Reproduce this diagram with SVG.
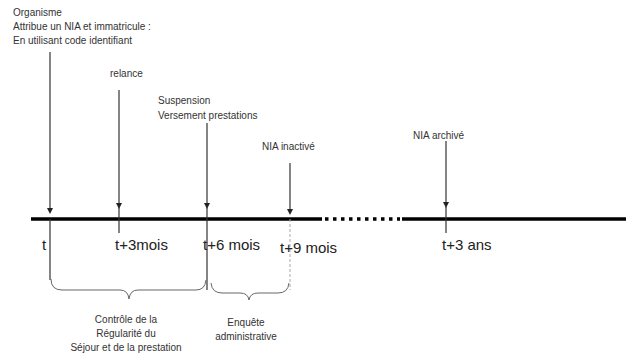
<svg xmlns="http://www.w3.org/2000/svg" width="626" height="356" viewBox="0 0 626 356">
<defs>
<marker id="ah" markerWidth="6" markerHeight="6" refX="3" refY="3" orient="auto" markerUnits="userSpaceOnUse">
<path d="M0,0 L6,3 L0,6 z" fill="#222"/>
</marker>
<style>
text{font-family:"Liberation Sans",Arial,sans-serif;fill:#333}
.s{font-size:10px}
.m{font-size:15px;fill:#222}
.v{stroke:#333;stroke-width:1.2;fill:none}
.b{stroke:#666;stroke-width:1;fill:none}
</style>
</defs>
<rect width="626" height="356" fill="#fff"/>
<g id="timeline">
<line x1="31" y1="219" x2="322" y2="219" stroke="#000" stroke-width="3.5"/>
<line x1="325" y1="219" x2="400" y2="219" stroke="#000" stroke-width="3.5" stroke-dasharray="3.5,4.5"/>
<line x1="402" y1="219" x2="626" y2="219" stroke="#000" stroke-width="3.5"/>
</g>
<g id="connectors">
<line class="v" x1="50" y1="52" x2="50" y2="211" marker-end="url(#ah)"/>
<line class="v" x1="50" y1="219" x2="50" y2="280"/>
<line class="v" x1="119" y1="90" x2="119" y2="206" marker-end="url(#ah)"/>
<line class="v" x1="119" y1="206" x2="119" y2="233"/>
<line class="v" x1="207" y1="123" x2="207" y2="206" marker-end="url(#ah)"/>
<line class="v" x1="207" y1="206" x2="207" y2="290"/>
<line class="v" x1="290" y1="163" x2="290" y2="212" marker-end="url(#ah)" stroke="#777"/>
<line x1="290" y1="219" x2="290" y2="290" stroke="#aaa" stroke-width="1" stroke-dasharray="3,2"/>
<line class="v" x1="446" y1="141" x2="446" y2="205" marker-end="url(#ah)"/>
<line class="v" x1="446" y1="205" x2="446" y2="233"/>
<path class="b" d="M51,279 Q51,290 62,290 L120,290 Q128,290 129,299 Q130,290 138,290 L196,290 Q205,290 206,280"/>
<path class="b" d="M211,283 Q212,293 222,293 L240,293 Q248,293 249,300 Q250,293 258,293 L278,293 Q288,293 289,283"/>
</g>
<g id="n-t0">
<text class="s" x="13" y="16">Organisme</text>
<text class="s" x="13" y="30">Attribue un NIA et immatricule :</text>
<text class="s" x="13" y="44">En utilisant code identifiant</text>
<text class="m" x="42" y="250">t</text>
</g>
<g id="n-t3">
<text class="s" x="110" y="77">relance</text>
<text class="m" x="115" y="250">t+3mois</text>
</g>
<g id="n-t6">
<text class="s" x="158" y="104">Suspension</text>
<text class="s" x="158" y="119">Versement prestations</text>
<text class="m" x="203" y="250">t+6 mois</text>
</g>
<g id="n-t9">
<text class="s" x="262" y="150">NIA inactivé</text>
<text class="m" x="280" y="253">t+9 mois</text>
</g>
<g id="n-t3ans">
<text class="s" x="413" y="139">NIA archivé</text>
<text class="m" x="442" y="250">t+3 ans</text>
</g>
<g id="n-controle">
<text class="s" x="126" y="323" text-anchor="middle">Contrôle de la</text>
<text class="s" x="126" y="337" text-anchor="middle">Régularité du</text>
<text class="s" x="126" y="351" text-anchor="middle" font-size="9">Séjour et de la prestation</text>
</g>
<g id="n-enquete">
<text class="s" x="246" y="326" text-anchor="middle" font-size="9">Enquête</text>
<text class="s" x="246" y="340" text-anchor="middle" font-size="9">administrative</text>
</g>
</svg>
